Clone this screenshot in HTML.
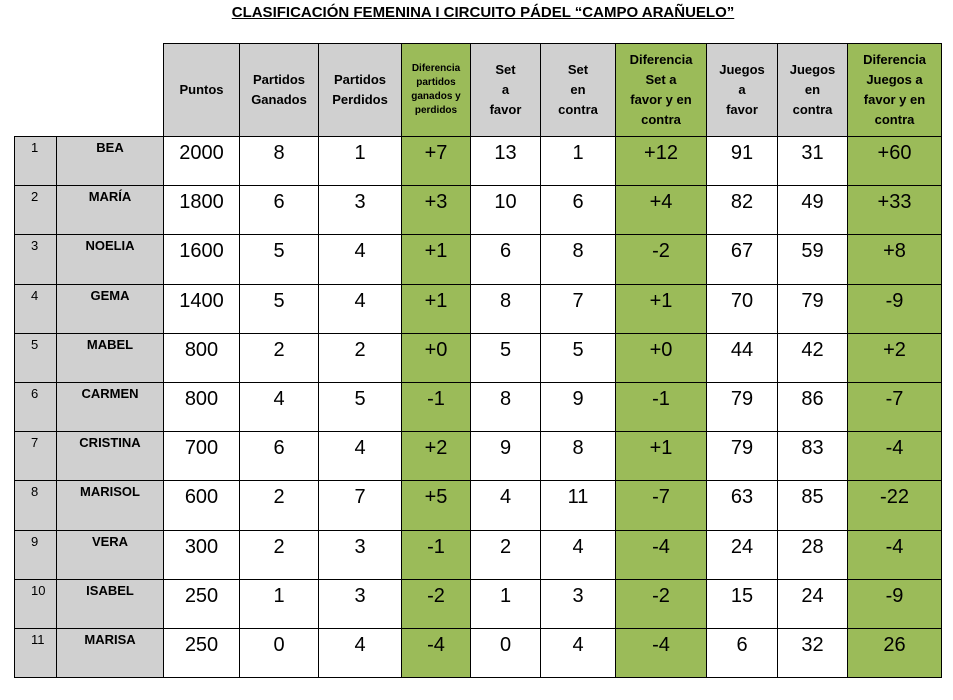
<!DOCTYPE html>
<html><head><meta charset="utf-8"><style>
body{margin:0;width:953px;height:700px;background:#fff;font-family:"Liberation Sans",sans-serif;position:relative;overflow:hidden}
.t{position:absolute;top:4px;left:0;width:966px;text-align:center;font-weight:bold;font-size:15px;}
.t span{text-decoration:underline}
table{position:absolute;left:14px;top:43px;border-collapse:collapse;table-layout:fixed;width:927px}
td{border:1.5px solid #000;padding:0;text-align:center;vertical-align:top;box-sizing:border-box}
tr.h td{height:93px;vertical-align:middle;background:#d0d0d0;font-weight:bold;font-size:13px;line-height:20px}
tr.h td.n{border:none;background:#fff}
tr.h td.g{background:#9bbb59}
tr.h td.s{font-size:10px;line-height:14px}
tr.r td{height:49.2px;font-size:20px;padding-top:5px}
tr.r td.k{background:#d0d0d0;font-size:13px;text-align:left;padding-left:16px;padding-top:3px}
tr.r td.m{background:#d0d0d0;font-size:13px;font-weight:bold;padding-top:3px}
tr.r td.g{background:#9bbb59}
</style></head><body>
<div class="t"><span>CLASIFICACIÓN FEMENINA I CIRCUITO PÁDEL “CAMPO ARAÑUELO”</span></div>
<table>
<colgroup><col style="width:42px"><col style="width:107px"><col style="width:76px"><col style="width:79px"><col style="width:83px"><col style="width:69px"><col style="width:70px"><col style="width:75px"><col style="width:91px"><col style="width:71px"><col style="width:70px"><col style="width:94px"></colgroup>
<tr class="h"><td class="n"></td><td class="n"></td><td>Puntos</td><td>Partidos Ganados</td><td>Partidos Perdidos</td><td class="g s">Diferencia<br>partidos<br>ganados y<br>perdidos</td><td>Set<br>a<br>favor</td><td>Set<br>en<br>contra</td><td class="g">Diferencia<br>Set a<br>favor y en<br>contra</td><td>Juegos<br>a<br>favor</td><td>Juegos<br>en<br>contra</td><td class="g">Diferencia<br>Juegos a<br>favor y en<br>contra</td></tr>
<tr class="r"><td class="k">1</td><td class="m">BEA</td><td>2000</td><td>8</td><td>1</td><td class="g">+7</td><td>13</td><td>1</td><td class="g">+12</td><td>91</td><td>31</td><td class="g">+60</td></tr>
<tr class="r"><td class="k">2</td><td class="m">MARÍA</td><td>1800</td><td>6</td><td>3</td><td class="g">+3</td><td>10</td><td>6</td><td class="g">+4</td><td>82</td><td>49</td><td class="g">+33</td></tr>
<tr class="r"><td class="k">3</td><td class="m">NOELIA</td><td>1600</td><td>5</td><td>4</td><td class="g">+1</td><td>6</td><td>8</td><td class="g">-2</td><td>67</td><td>59</td><td class="g">+8</td></tr>
<tr class="r"><td class="k">4</td><td class="m">GEMA</td><td>1400</td><td>5</td><td>4</td><td class="g">+1</td><td>8</td><td>7</td><td class="g">+1</td><td>70</td><td>79</td><td class="g">-9</td></tr>
<tr class="r"><td class="k">5</td><td class="m">MABEL</td><td>800</td><td>2</td><td>2</td><td class="g">+0</td><td>5</td><td>5</td><td class="g">+0</td><td>44</td><td>42</td><td class="g">+2</td></tr>
<tr class="r"><td class="k">6</td><td class="m">CARMEN</td><td>800</td><td>4</td><td>5</td><td class="g">-1</td><td>8</td><td>9</td><td class="g">-1</td><td>79</td><td>86</td><td class="g">-7</td></tr>
<tr class="r"><td class="k">7</td><td class="m">CRISTINA</td><td>700</td><td>6</td><td>4</td><td class="g">+2</td><td>9</td><td>8</td><td class="g">+1</td><td>79</td><td>83</td><td class="g">-4</td></tr>
<tr class="r"><td class="k">8</td><td class="m">MARISOL</td><td>600</td><td>2</td><td>7</td><td class="g">+5</td><td>4</td><td>11</td><td class="g">-7</td><td>63</td><td>85</td><td class="g">-22</td></tr>
<tr class="r"><td class="k">9</td><td class="m">VERA</td><td>300</td><td>2</td><td>3</td><td class="g">-1</td><td>2</td><td>4</td><td class="g">-4</td><td>24</td><td>28</td><td class="g">-4</td></tr>
<tr class="r"><td class="k">10</td><td class="m">ISABEL</td><td>250</td><td>1</td><td>3</td><td class="g">-2</td><td>1</td><td>3</td><td class="g">-2</td><td>15</td><td>24</td><td class="g">-9</td></tr>
<tr class="r"><td class="k">11</td><td class="m">MARISA</td><td>250</td><td>0</td><td>4</td><td class="g">-4</td><td>0</td><td>4</td><td class="g">-4</td><td>6</td><td>32</td><td class="g">26</td></tr>
</table>
</body></html>
